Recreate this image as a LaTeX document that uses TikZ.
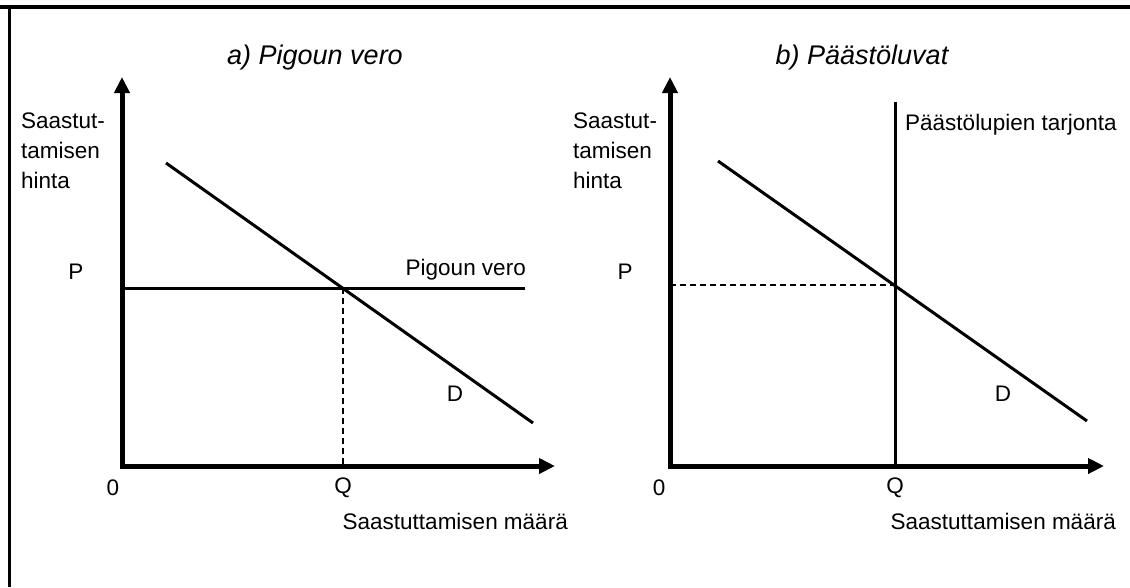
\documentclass[tikz,border=0pt]{standalone}
\usepackage{fontspec}
\setmainfont{Liberation Sans}
\usetikzlibrary{arrows.meta}
\begin{document}
\begin{tikzpicture}[x=1pt,y=-1pt,
  axis/.style={line width=5pt,-{Triangle[length=16pt,width=15pt]}},
  curve/.style={line width=3pt},
  guide/.style={line width=1.4pt,dash pattern=on 6pt off 4pt},
  lbl/.style={inner sep=0pt,font=\fontsize{22.5}{30}\selectfont},
  ttl/.style={inner sep=0pt,font=\fontsize{27}{30}\selectfont\itshape}]
\useasboundingbox (0,0) rectangle (1130,587);
\fill[white] (0,0) rectangle (1130,587);
% frame
\coordinate (fl) at (0,6.5); \coordinate (fr) at (1130,6.5);
\coordinate (ft) at (9.5,5); \coordinate (fb) at (9.5,587);
\draw[line width=4pt] (fl) -- (fr);
\draw[line width=3pt] (ft) -- (fb);
% ---------- panel a ----------
\coordinate (aO) at (122,466);
\coordinate (aY) at (122,77);
\coordinate (aX) at (555,466);
\coordinate (aP0) at (122,288);
\coordinate (aP1) at (525,288);
\coordinate (aE) at (343,288);
\coordinate (aQ) at (343,466);
\coordinate (aD0) at (166,163);
\coordinate (aD1) at (533,423);
\draw[curve] (aP0) -- (aP1);
\draw[curve] (aD0) -- (aD1);
\draw[guide] (aE) -- (aQ);
\draw[axis] ([yshift=2.5pt]aO) -- (aY);
\draw[axis] ([xshift=-2.5pt]aO) -- (aX);
\node[ttl] (at) at (315,58) {a) Pigoun vero};
\node[lbl,anchor=north west,align=left] (ay) at (21,113) {Saastut-\\tamisen\\hinta};
\node[lbl] (ap) at (76,272) {P};
\node[lbl] (a0) at (113,488) {0};
\node[lbl] (aq) at (343,488) {Q};
\node[lbl] (ad) at (455,394) {D};
\node[lbl,anchor=east] (apv) at (526,270) {Pigoun vero};
\node[lbl,anchor=east] (ax) at (568,521) {Saastuttamisen määrä};
% ---------- panel b ----------
\coordinate (bO) at (670,466);
\coordinate (bY) at (670,77);
\coordinate (bX) at (1104,466);
\coordinate (bP0) at (670,285);
\coordinate (bE) at (895,285);
\coordinate (bS0) at (895,102);
\coordinate (bS1) at (895,466);
\coordinate (bD0) at (718,161);
\coordinate (bD1) at (1087,421);
\draw[curve] (bS0) -- (bS1);
\draw[curve] (bD0) -- (bD1);
\draw[guide] (bP0) -- (bE);
\draw[axis] ([yshift=2.5pt]bO) -- (bY);
\draw[axis] ([xshift=-2.5pt]bO) -- (bX);
\node[ttl] (bt) at (862,58) {b) Päästöluvat};
\node[lbl,anchor=north west,align=left] (by) at (573,113) {Saastut-\\tamisen\\hinta};
\node[lbl] (bp) at (625,272) {P};
\node[lbl] (b0) at (659,488) {0};
\node[lbl] (bq) at (895,488) {Q};
\node[lbl] (bd) at (1003,394) {D};
\node[lbl,anchor=west] (bs) at (905,125) {Päästölupien tarjonta};
\node[lbl,anchor=east] (bx) at (1116,521) {Saastuttamisen määrä};
\end{tikzpicture}
\end{document}
